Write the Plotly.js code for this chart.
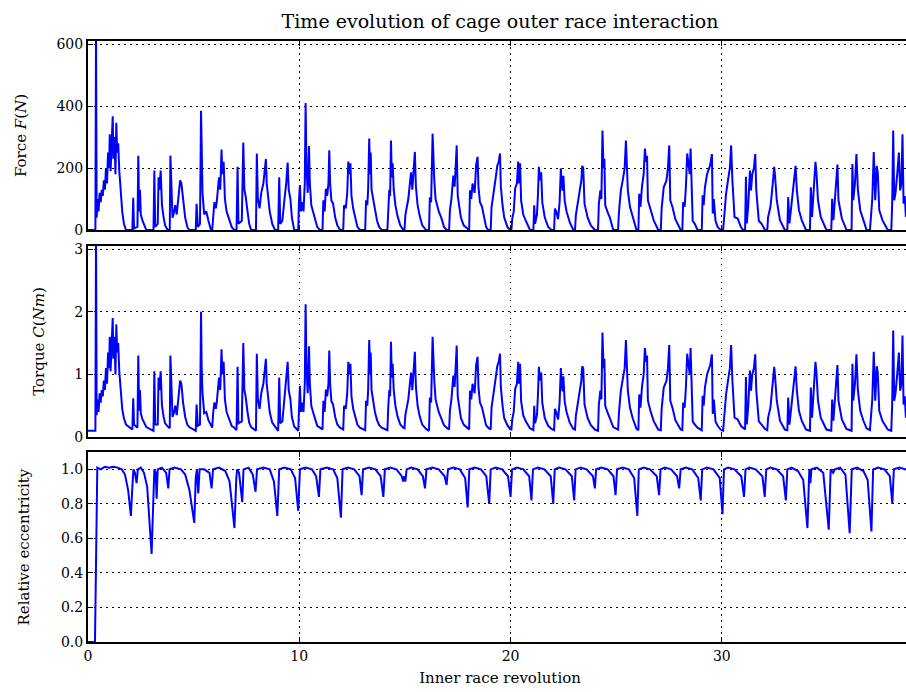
<!DOCTYPE html>
<html>
<head>
<meta charset="utf-8">
<script src="https://cdn.plot.ly/plotly-3.0.1.min.js"></script>
<style>
html,body{margin:0;padding:0;overflow:hidden;background:#fff;}
#chart{width:912px;height:692px;}
</style>
</head>
<body>
<div id="chart"></div>
<script>
// Inner race revolution sample positions for force and torque
const revA = [
0,0.35,0.38,0.41,0.45,0.5,0.55,0.6,0.65,0.7,0.75,0.8,0.85,0.9,0.95,1.0,1.03,1.07,1.12,1.17,1.2,1.25,1.3,1.34,1.38,1.43,1.48,1.55,1.62,1.7,1.8,
2.1,2.14,2.18,2.34,2.38,2.42,2.46,2.5,2.58,2.7,2.76,
3.1,3.14,3.18,3.3,3.34,3.38,3.44,3.5,3.58,3.65,3.77,
3.87,3.9,3.95,4.0,4.08,4.13,4.2,4.28,4.36,4.42,4.5,4.6,4.7,4.79,
5.1,5.14,5.2,5.3,5.35,5.38,5.42,5.5,5.6,5.7,5.82,
5.88,5.92,5.98,6.05,6.1,6.2,6.26,6.32,6.36,6.42,6.48,6.56,6.7,6.8,6.92,
7.03,7.08,7.12,7.28,7.35,7.4,7.46,7.55,7.63,7.72,
7.95,7.99,8.04,8.12,8.2,8.3,8.38,8.42,8.46,8.52,8.6,8.72,8.85,
9.0,9.05,9.1,9.2,9.3,9.38,9.45,9.5,9.58,9.65,9.76,
9.95,9.99,10.03,10.08,10.13,10.2,10.26,10.3,10.34,10.4,10.46,10.5,10.57,10.65,10.75,10.85,10.98,
11.1,11.14,11.2,11.26,11.32,11.38,11.42,11.46,11.52,11.6,11.7,11.8,11.93,
12.08,12.12,12.2,12.27,12.32,12.37,12.42,12.47,12.55,12.65,12.75,12.87,
13.12,13.16,13.22,13.26,13.31,13.35,13.38,13.42,13.5,13.58,13.68,13.78,13.9,
14.17,14.21,14.26,14.3,14.34,14.38,14.42,14.47,14.55,14.65,14.78,14.92,
14.98,15.02,15.1,15.16,15.22,15.29,15.35,15.41,15.47,15.52,15.6,15.7,15.82,16.0,
16.14,16.18,16.24,16.31,16.35,16.39,16.45,16.52,16.6,16.72,16.85,16.97,
17.09,17.13,17.2,17.29,17.35,17.4,17.45,17.5,17.56,17.65,17.78,18.0,
18.04,18.08,18.14,18.2,18.3,18.37,18.44,18.48,18.55,18.65,18.75,18.84,18.94,
19.06,19.1,19.18,19.26,19.32,19.37,19.44,19.5,19.54,19.62,19.7,19.85,19.97,
20.04,20.08,20.15,20.22,20.3,20.36,20.4,20.45,20.5,20.6,20.72,20.85,20.92,
21.08,21.12,21.16,21.25,21.3,21.34,21.39,21.45,21.5,21.62,21.78,21.94,
22.06,22.1,22.16,22.25,22.32,22.38,22.42,22.46,22.5,22.56,22.65,22.8,22.97,
23.05,23.09,23.18,23.28,23.35,23.39,23.44,23.5,23.65,23.8,23.99,
24.14,24.18,24.25,24.3,24.35,24.4,24.44,24.48,24.58,24.7,24.86,
25.09,25.13,25.22,25.32,25.4,25.46,25.5,25.55,25.65,25.78,25.96,
26.05,26.09,26.15,26.22,26.3,26.36,26.41,26.46,26.5,26.62,26.78,26.99,
27.11,27.15,27.25,27.32,27.38,27.45,27.51,27.56,27.66,27.8,28.05,
28.13,28.17,28.24,28.3,28.36,28.42,28.48,28.52,28.57,28.62,28.72,28.85,
29.05,29.09,29.14,29.2,29.3,29.38,29.45,29.53,29.57,29.62,29.7,29.8,29.94,
30.06,30.1,30.2,30.3,30.38,30.44,30.5,30.6,30.75,30.9,31.01,
31.1,31.14,31.18,31.25,31.33,31.38,31.44,31.52,31.58,31.63,31.75,31.88,32.04,
32.15,32.19,32.3,32.38,32.48,32.52,32.6,32.75,32.98,
33.1,33.14,33.2,33.3,33.38,33.49,33.55,33.65,33.78,33.98,
34.17,34.21,34.27,34.36,34.43,34.48,34.55,34.68,34.95,
35.18,35.22,35.28,35.38,35.47,35.52,35.68,35.9,
36.14,36.18,36.22,36.3,36.37,36.44,36.55,36.7,36.85,
37.01,37.05,37.12,37.19,37.26,37.33,37.38,37.45,37.6,37.85,
38.02,38.06,38.11,38.16,38.22,38.3,38.38,38.44,38.5,38.55,38.6,38.66,38.71,38.76,38.85
];

// Force F (N)
const forceN = [
0,0,650,40,100,60,120,90,130,110,160,130,200,150,250,200,309,190,280,367,230,300,180,346,250,280,192,120,60,20,0,
0,104,5,10,240,60,130,50,30,5,0,
0,192,10,20,170,130,192,80,40,15,0,
0,240,110,40,60,80,50,100,160,150,90,40,10,0,
0,85,10,20,385,200,120,50,60,30,0,
0,50,90,70,95,170,130,260,180,220,100,60,30,10,0,
0,204,20,30,282,130,110,60,20,0,
0,247,100,70,120,150,200,229,150,100,60,20,0,
0,170,20,30,100,150,218,130,100,40,0,
0,100,145,60,90,60,150,410,200,120,271,150,80,60,30,10,0,
0,96,60,133,110,150,257,150,95,85,40,15,0,
0,80,70,120,221,180,215,110,70,40,10,0,
0,96,80,133,295,180,250,130,95,60,30,10,0,
0,74,130,110,289,170,215,130,80,45,15,0,
0,48,80,100,140,186,130,200,252,140,80,45,15,0,
0,106,90,311,200,160,100,80,60,40,10,0,
0,64,100,176,140,200,273,110,80,40,15,0,
0,128,100,150,120,210,236,140,90,75,40,10,0,
0,74,110,140,180,207,220,247,140,80,40,10,0,
0,37,60,135,150,221,150,215,95,50,30,10,0,
0,80,20,50,120,204,160,186,90,40,10,0,
0,69,60,35,90,199,150,127,175,95,60,25,0,
0,48,85,138,160,207,200,85,40,15,0,
0,85,128,100,321,200,230,80,60,40,0,
0,58,128,165,200,289,180,128,75,40,0,
0,117,75,140,180,263,220,240,96,64,30,0,
0,69,138,150,160,200,273,96,75,35,0,
0,90,75,140,247,220,180,263,150,30,20,0,
0,112,80,138,180,195,210,245,53,100,30,10,0,
0,42,117,165,200,273,160,42,37,10,0,
0,172,21,80,192,128,180,200,245,128,30,20,0,
0,42,75,128,204,172,96,32,0,
0,106,21,80,138,207,128,64,32,0,
0,138,42,150,220,186,96,42,0,
0,101,32,120,211,96,37,0,
0,213,96,150,245,128,64,32,0,
0,53,100,252,96,207,186,64,32,0,
0,80,321,96,120,180,250,128,150,309,85,110,42,60,30
];

// Torque C (Nm)
const torqueNm = [
0.1,0.1,3.3,0.35,0.6,0.4,0.7,0.55,0.75,0.65,0.9,0.75,1.1,0.85,1.35,1.1,1.6,1.05,1.5,1.9,1.25,1.6,1.0,1.8,1.35,1.5,1.05,0.7,0.45,0.3,0.2,
0.12,0.62,0.2,0.15,1.3,0.42,0.75,0.38,0.28,0.18,0.16,
0.1,1.05,0.2,0.2,0.95,0.75,1.05,0.5,0.32,0.22,0.17,
0.14,1.3,0.65,0.32,0.4,0.5,0.35,0.6,0.9,0.85,0.55,0.32,0.2,0.16,
0.1,0.52,0.18,0.2,2.0,1.1,0.7,0.38,0.4,0.27,0.17,
0.15,0.37,0.55,0.45,0.57,0.95,0.75,1.4,1.0,1.2,0.6,0.4,0.27,0.18,0.15,
0.11,1.12,0.22,0.25,1.5,0.75,0.65,0.4,0.23,0.16,
0.1,1.33,0.6,0.45,0.7,0.85,1.1,1.25,0.85,0.6,0.4,0.23,0.16,
0.1,0.95,0.22,0.25,0.6,0.85,1.2,0.75,0.6,0.32,0.17,
0.1,0.6,0.82,0.4,0.55,0.4,0.85,2.12,1.1,0.7,1.45,0.85,0.5,0.4,0.27,0.18,0.15,
0.12,0.58,0.4,0.76,0.65,0.85,1.38,0.85,0.57,0.52,0.32,0.2,0.15,
0.12,0.5,0.45,0.7,1.2,1.0,1.17,0.65,0.45,0.32,0.2,0.15,
0.11,0.58,0.5,0.76,1.55,1.0,1.35,0.75,0.57,0.4,0.27,0.19,0.15,
0.11,0.47,0.75,0.65,1.52,0.95,1.17,0.75,0.5,0.33,0.2,0.15,
0.14,0.35,0.5,0.6,0.8,1.03,0.75,1.1,1.36,0.8,0.5,0.33,0.2,0.13,
0.1,0.63,0.55,1.6,1.1,0.9,0.6,0.5,0.4,0.3,0.19,0.15,
0.12,0.42,0.6,0.98,0.8,1.1,1.46,0.65,0.5,0.3,0.2,0.12,
0.12,0.74,0.6,0.85,0.7,1.15,1.28,0.8,0.55,0.47,0.3,0.19,0.15,
0.12,0.47,0.65,0.8,1.0,1.13,1.2,1.33,0.8,0.5,0.3,0.19,0.13,
0.12,0.28,0.4,0.77,0.85,1.2,0.85,1.17,0.57,0.35,0.25,0.18,0.14,
0.11,0.5,0.22,0.35,0.7,1.12,0.9,1.03,0.55,0.3,0.18,0.13,
0.11,0.45,0.4,0.28,0.55,1.1,0.85,0.73,0.97,0.57,0.4,0.23,0.13,
0.12,0.34,0.52,0.79,0.9,1.13,1.1,0.52,0.3,0.19,0.12,
0.1,0.52,0.74,0.6,1.67,1.1,1.25,0.5,0.4,0.3,0.16,
0.12,0.39,0.74,0.92,1.1,1.55,1.0,0.74,0.47,0.3,0.13,
0.11,0.68,0.47,0.8,1.0,1.42,1.2,1.3,0.58,0.42,0.25,0.12,
0.11,0.45,0.79,0.85,0.9,1.1,1.47,0.58,0.47,0.27,0.12,
0.11,0.55,0.47,0.8,1.33,1.2,1.0,1.42,0.85,0.25,0.2,0.15,
0.11,0.66,0.5,0.79,1.0,1.07,1.15,1.32,0.37,0.6,0.25,0.18,0.12,
0.1,0.31,0.68,0.92,1.1,1.47,0.9,0.31,0.28,0.18,0.14,
0.12,0.96,0.2,0.5,1.06,0.74,1.0,1.1,1.32,0.74,0.25,0.2,0.13,
0.11,0.31,0.47,0.74,1.12,0.96,0.58,0.26,0.12,
0.11,0.63,0.2,0.5,0.79,1.13,0.74,0.42,0.26,0.12,
0.1,0.79,0.31,0.85,1.2,1.03,0.58,0.31,0.12,
0.1,0.6,0.26,0.7,1.15,0.58,0.28,0.13,
0.1,1.17,0.58,0.85,1.32,0.74,0.42,0.26,0.14,
0.11,0.37,0.6,1.36,0.58,1.13,1.03,0.42,0.26,0.12,
0.1,0.5,1.7,0.58,0.7,1.0,1.35,0.74,0.85,1.62,0.52,0.65,0.31,0.4,0.27
];

// Relative eccentricity
const revB = [
0,0.33,0.44,0.6,0.8,1.0,1.2,1.4,1.6,1.75,1.9,2.03,2.1,2.15,2.22,2.3,2.36,2.5,2.65,2.8,3.01,3.1,3.14,3.2,3.25,3.3,3.5,3.7,3.8,3.86,
4.1,4.4,4.6,4.8,5.03,5.1,5.15,5.22,5.28,5.5,5.75,5.85,5.92,6.2,6.5,6.7,6.93,7.02,7.06,7.15,7.3,7.36,7.6,7.8,7.93,8.0,
8.3,8.6,8.8,8.96,9.05,9.3,9.6,9.8,9.95,10.03,10.3,10.6,10.8,10.93,11.0,11.3,11.6,11.8,11.97,12.05,
12.3,12.6,12.85,12.95,13.02,13.3,13.6,13.85,13.98,14.05,14.3,14.6,14.85,14.92,14.97,15.02,15.08,
15.3,15.6,15.85,15.95,16.02,16.3,16.6,16.88,16.97,17.04,17.3,17.6,17.85,17.97,18.05,
18.3,18.6,18.85,18.99,19.06,19.3,19.6,19.88,20.0,20.07,20.3,20.6,20.88,20.99,21.06,
21.3,21.6,21.9,22.02,22.09,22.3,22.6,22.9,23.01,23.08,23.3,23.6,23.9,23.99,24.05,
24.3,24.6,24.87,24.97,25.04,25.3,25.6,25.85,26.0,26.07,26.3,26.6,26.92,27.03,27.1,
27.3,27.6,27.88,27.98,28.05,28.3,28.6,28.88,29.0,29.07,29.3,29.6,29.9,30.03,30.1,
30.3,30.6,30.92,31.05,31.12,31.3,31.6,31.92,32.03,32.1,32.3,32.6,32.9,33.03,33.1,
33.3,33.6,33.85,34.05,34.14,34.19,34.24,34.5,34.8,35.06,35.15,35.27,35.35,
35.6,35.85,36.05,36.15,36.4,36.7,36.9,37.08,37.16,37.4,37.7,37.95,38.07,38.14,38.4,38.7,38.9
];
const eccRel = [
0,0,1.01,1.0,1.015,1.01,1.015,1.01,1.0,0.97,0.88,0.73,0.9,1.0,0.98,0.92,1.0,1.01,0.98,0.9,0.51,0.8,1.0,0.98,0.83,1.0,1.01,0.98,0.89,1.0,
1.01,1.0,0.97,0.88,0.69,0.95,1.0,0.86,1.0,1.0,0.98,0.89,1.0,1.01,0.99,0.93,0.66,0.95,1.0,0.98,0.81,1.0,1.01,0.97,0.87,1.0,
1.01,1.0,0.93,0.73,1.0,1.01,1.0,0.95,0.76,1.0,1.01,1.0,0.96,0.84,1.0,1.01,1.0,0.95,0.72,1.0,
1.01,1.0,0.96,0.85,1.0,1.01,1.0,0.96,0.84,1.0,1.01,1.0,0.96,0.93,0.96,0.93,1.0,
1.01,1.0,0.96,0.89,1.0,1.01,1.0,0.96,0.91,1.0,1.01,1.0,0.95,0.78,1.0,
1.01,1.0,0.96,0.8,1.0,1.01,1.0,0.96,0.84,1.0,1.01,1.0,0.96,0.82,1.0,
1.01,1.0,0.96,0.8,1.0,1.01,1.0,0.96,0.82,1.0,1.01,1.0,0.96,0.89,1.0,
1.01,1.0,0.96,0.85,1.0,1.01,1.0,0.95,0.73,1.0,1.01,1.0,0.96,0.85,1.0,
1.01,1.0,0.96,0.89,1.0,1.01,1.0,0.95,0.82,1.0,1.01,1.0,0.95,0.74,1.0,
1.01,1.0,0.96,0.84,1.0,1.01,1.0,0.96,0.84,1.0,1.01,1.0,0.96,0.82,1.0,
1.01,0.99,0.94,0.66,1.0,0.92,1.0,1.01,0.98,0.65,1.0,0.98,1.0,
1.01,0.97,0.63,1.0,1.01,0.99,0.94,0.64,1.0,1.01,1.0,0.96,0.8,1.0,1.01,1.0,1.005
];

// Axis ticks
const forceTicks = [0, 200, 400, 600];
const torqueTicks = [0, 1, 2, 3];
const eccTicks = [0, 0.2, 0.4, 0.6, 0.8, 1.0];
const revTicks = [0, 10, 20, 30];

if (revA.length !== forceN.length || revA.length !== torqueNm.length) console.error('A lengths', revA.length, forceN.length, torqueNm.length);
if (revB.length !== eccRel.length) console.error('B lengths', revB.length, eccRel.length);

const SERIF = '"DejaVu Serif", "Liberation Serif", serif';
const lineStyle = {color: '#0000ff', width: 2};

const traces = [
  {x: revA, y: forceN, type: 'scatter', mode: 'lines', line: lineStyle, xaxis: 'x', yaxis: 'y', hoverinfo: 'skip'},
  {x: revA, y: torqueNm, type: 'scatter', mode: 'lines', line: lineStyle, xaxis: 'x2', yaxis: 'y2', hoverinfo: 'skip'},
  {x: revB, y: eccRel, type: 'scatter', mode: 'lines', line: lineStyle, xaxis: 'x3', yaxis: 'y3', hoverinfo: 'skip'}
];

const commonAxis = {
  showline: true, linecolor: '#000', linewidth: 2, mirror: 'ticks',
  ticks: 'inside', ticklen: 5, tickwidth: 1, tickcolor: '#000',
  showgrid: true, gridcolor: '#000', gridwidth: 1, griddash: '1.5px,4.5px',
  zeroline: false,
  tickfont: {family: SERIF, size: 14, color: '#000'}
};

function xa(anchor, showLabels) {
  return Object.assign({}, commonAxis, {
    anchor: anchor, range: [0, 39.0], tickvals: revTicks,
    showticklabels: showLabels, matches: anchor === 'y3' ? undefined : 'x3'
  });
}

const layout = {
  width: 912, height: 692,
  margin: {l: 88, r: 0, t: 41, b: 50},
  paper_bgcolor: '#fff', plot_bgcolor: '#fff',
  showlegend: false,
  font: {family: SERIF, color: '#000'},
  title: {text: 'Time evolution of cage outer race interaction', font: {family: SERIF, size: 19, color: '#000'},
          x: 0.5, xref: 'paper', y: 0.969, yref: 'container', xanchor: 'center', yanchor: 'middle'},
  xaxis: xa('y', false),
  xaxis2: xa('y2', false),
  xaxis3: Object.assign(xa('y3', true), {title: {text: 'Inner race revolution', font: {family: SERIF, size: 15, color: '#000'}, standoff: 10}}),
  yaxis: Object.assign({}, commonAxis, {domain: [0.6855, 1.0], range: [0, 610], tickvals: forceTicks, anchor: 'x',
          title: {text: 'Force <i>F</i>(<i>N</i>)', font: {family: SERIF, size: 15, color: '#000'}, standoff: 26}}),
  yaxis2: Object.assign({}, commonAxis, {domain: [0.341, 0.659], range: [0, 3.05], tickvals: torqueTicks, anchor: 'x2',
          title: {text: 'Torque <i>C</i>(<i>Nm</i>)', font: {family: SERIF, size: 15, color: '#000'}, standoff: 26}}),
  yaxis3: Object.assign({}, commonAxis, {domain: [0, 0.316], range: [0, 1.1], tickvals: eccTicks, tickformat: '.1f', anchor: 'x3',
          title: {text: 'Relative eccentricity', font: {family: SERIF, size: 15, color: '#000'}, standoff: 28}})
};

Plotly.newPlot('chart', traces, layout, {displayModeBar: false, staticPlot: true});
</script>
</body>
</html>
